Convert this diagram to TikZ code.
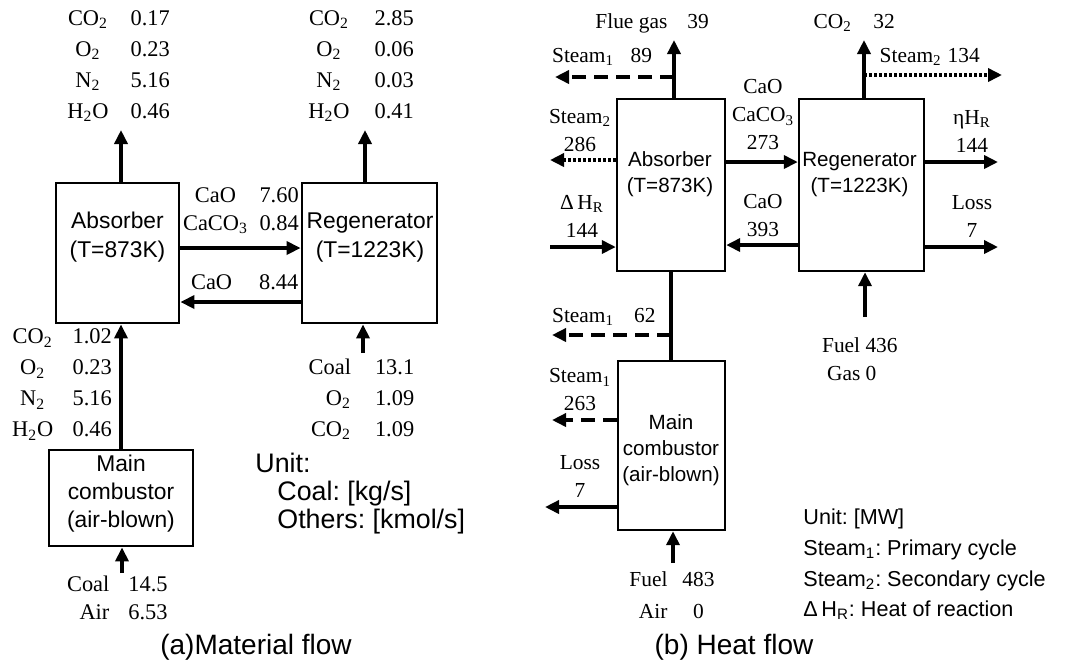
\documentclass[tikz,border=0pt]{standalone}
\usepackage{fontspec}
\setmainfont{Liberation Serif}
\setsansfont{Liberation Sans}
\usetikzlibrary{arrows.meta,positioning}
\frenchspacing

\begin{document}
\begin{tikzpicture}[
    x=0.5pt, y=-0.5pt,
    boxA/.style={draw, line width=1.4pt, inner sep=0pt},
    boxB/.style={draw, line width=1.2pt, inner sep=0pt},
    boxtxtA/.style={align=center, inner sep=0pt, font=\sffamily\fontsize{11.4}{14.5}\selectfont},
    boxtxtB/.style={align=center, inner sep=0pt, font=\sffamily\fontsize{10.3}{13}\selectfont},
    lblA/.style={anchor=west, inner sep=0pt, font=\fontsize{11.2}{15.5}\selectfont},
    lblB/.style={align=center, inner sep=0pt, font=\fontsize{10.7}{14}\selectfont},
    legend/.style={anchor=west, align=left, inner sep=0pt},
    captxt/.style={inner sep=0pt, font=\sffamily\fontsize{14}{16}\selectfont},
    flow/.style={-{Triangle[length=7pt,width=6.5pt]}, line width=2pt},
    dashflow/.style={flow, dash pattern=on 7pt off 4pt},
    dotflow/.style={flow, line width=1.9pt, dash pattern=on 1.5pt off 1pt}
  ]
    \useasboundingbox (0,0) rectangle (1074,661);

    % (a) Material flow: boxes
    \node[boxA, minimum width=61.5pt, minimum height=70pt] (absA) at (117.5,253) {};
    \node[boxA, minimum width=67.5pt, minimum height=70pt] (regA) at (369.5,253) {};
    \node[boxA, minimum width=72pt, minimum height=48pt] (combA) at (121,498) {};
    \node[boxtxtA] (absAtxt) at (117.5,237.5) {Absorber\\(T=873K)};
    \node[boxtxtA] (regAtxt) at (370,237.5) {Regenerator\\(T=1223K)};
    \node[boxtxtA, font=\sffamily\fontsize{11.4}{14}\selectfont] (combAtxt) at (121,493.5) {Main\\combustor\\(air-blown)};

    % (a) streams
    \coordinate (aTop) at (121,130);
    \coordinate (rTop) at (365,130);
    \coordinate (rIn) at (363,353);
    \coordinate (cIn) at (122,573);
    \draw[flow] (absA.north -| aTop) -- (aTop);
    \draw[flow] (regA.north -| rTop) -- (rTop);
    \draw[flow] ([yshift=2.5pt]absA.east) -- ([yshift=2.5pt]regA.west);
    \draw[flow] ([yshift=-24.5pt]regA.west) -- ([yshift=-24.5pt]absA.east);
    \draw[flow] (combA.north) -- (combA.north |- absA.south);
    \draw[flow] (rIn) -- (rIn |- regA.south);
    \draw[flow] (cIn) -- (cIn |- combA.south);

    % (a) labels
    \node[lblA] (absOut) at (67,66) {\begin{tabular}{@{}c@{\hspace{11pt}}l@{}}
      CO\textsubscript{2} & 0.17\\ O\textsubscript{2} & 0.23\\ N\textsubscript{2} & 5.16\\ H\textsubscript{2}O & 0.46\end{tabular}};
    \node[lblA] (regOut) at (308,66) {\begin{tabular}{@{}c@{\hspace{12.5pt}}l@{}}
      CO\textsubscript{2} & 2.85\\ O\textsubscript{2} & 0.06\\ N\textsubscript{2} & 0.03\\ H\textsubscript{2}O & 0.41\end{tabular}};
    \node[lblA, font=\fontsize{11.2}{14}\selectfont] (cycA) at (182.7,211) {\begin{tabular}{@{}c@{\hspace{5.8pt}}l@{}}
      CaO & 7.60\\ CaCO\textsubscript{3} & 0.84\end{tabular}};
    \node[lblA] (retA) at (190.7,282) {CaO\hspace{13.5pt}8.44};
    \node[lblA] (combOut) at (11.7,384) {\begin{tabular}{@{}c@{\hspace{9.7pt}}l@{}}
      CO\textsubscript{2} & 1.02\\ O\textsubscript{2} & 0.23\\ N\textsubscript{2} & 5.16\\ H\textsubscript{2}O & 0.46\end{tabular}};
    \node[lblA] (regIn) at (308.3,399) {\begin{tabular}{@{}r@{\hspace{12pt}}l@{}}
      Coal & 13.1\\ O\textsubscript{2} & 1.09\\ CO\textsubscript{2} & 1.09\end{tabular}};
    \node[lblA, font=\fontsize{11.2}{14}\selectfont] (combIn) at (66.7,600) {\begin{tabular}{@{}r@{\hspace{9.5pt}}l@{}}
      Coal & 14.5\\ Air & 6.53\end{tabular}};
    \node[legend, font=\sffamily\fontsize{13.4}{14}\selectfont] (unitA) at (255,494)
      {Unit:\\\hspace*{11pt}Coal: [kg/s]\\\hspace*{11pt}Others: [kmol/s]};
    \node[captxt] (capA) at (256,647) {(a)Material flow};

    % (b) Heat flow: boxes
    \node[boxB, minimum width=54pt, minimum height=86pt] (absB) at (671,185) {};
    \node[boxB, minimum width=62.5pt, minimum height=86pt] (regB) at (861.5,185) {};
    \node[boxB, minimum width=53.5pt, minimum height=84.5pt] (combB) at (671.5,445.5) {};
    \node[boxtxtB] (absBtxt) at (670,174.5) {Absorber\\(T=873K)};
    \node[boxtxtB] (regBtxt) at (859.5,174.5) {Regenerator\\(T=1223K)};
    \node[boxtxtB] (combBtxt) at (671,450) {Main\\combustor\\(air-blown)};

    % (b) streams
    \coordinate (flueEnd) at (674,40);
    \coordinate (s1a) at (555,77);
    \coordinate (s2a) at (550,160);
    \coordinate (dH) at (550,247);
    \coordinate (co2B) at (864,40);
    \coordinate (s2b) at (1002,75);
    \coordinate (eta) at (998,162);
    \coordinate (lossR) at (998,247);
    \coordinate (fuelR) at (865,317);
    \coordinate (s1b) at (552,335);
    \coordinate (s1c) at (552,420);
    \coordinate (lossL) at (545,507);
    \coordinate (fuelC) at (673,563);
    \draw[flow] (absB.north -| flueEnd) -- (flueEnd);
    \draw[dashflow] (s1a -| flueEnd) -- (s1a);
    \draw[dotflow] (absB.west |- s2a) -- (s2a);
    \draw[flow] (dH) -- (absB.west |- dH);
    \draw[flow] ([yshift=11.5pt]absB.east) -- ([yshift=11.5pt]regB.west);
    \draw[flow] ([yshift=-30pt]regB.west) -- ([yshift=-30pt]absB.east);
    \draw[flow] (regB.north -| co2B) -- (co2B);
    \draw[dotflow] (co2B |- s2b) -- (s2b);
    \draw[flow] (regB.east |- eta) -- (eta);
    \draw[flow] (regB.east |- lossR) -- (lossR);
    \draw[flow] (fuelR) -- (fuelR |- regB.south);
    \draw[line width=2pt] (absB.south) -- (absB.south |- combB.north);
    \draw[dashflow] (absB.south |- s1b) -- (s1b);
    \draw[dashflow] (combB.west |- s1c) -- (s1c);
    \draw[flow] (combB.west |- lossL) -- (lossL);
    \draw[flow] (fuelC) -- (fuelC |- combB.south);

    % (b) labels
    \node[lblB, anchor=west] (flueTxt) at (595,23) {Flue gas\hspace{10pt}39};
    \node[lblB, anchor=west] (s1aTxt) at (551.7,57) {Steam\textsubscript{1}\hspace{8.3pt}89};
    \node[lblB] (s2aTxt) at (580,130.5) {Steam\textsubscript{2}\\286};
    \node[lblB] (dHTxt) at (582,216) {Δ\,H\textsubscript{R}\\144};
    \node[lblB] (cycB) at (763,115) {CaO\\CaCO\textsubscript{3}\\273};
    \node[lblB] (retB) at (763,216) {CaO\\393};
    \node[lblB, anchor=west] (co2Txt) at (813.3,23) {CO\textsubscript{2}\hspace{10.7pt}32};
    \node[lblB, anchor=west] (s2bTxt) at (879.3,57) {Steam\textsubscript{2}\hspace{3pt}134};
    \node[lblB] (etaTxt) at (972,131) {ηH\textsubscript{R}\\144};
    \node[lblB] (lossRTxt) at (972,216) {Loss\\7};
    \node[lblB, anchor=west, align=left] (fuelRTxt) at (821.7,359.5) {Fuel 436\\\hspace*{2.5pt}Gas 0};
    \node[lblB, anchor=west] (s1bTxt) at (551.7,317) {Steam\textsubscript{1}\hspace{10pt}62};
    \node[lblB] (s1cTxt) at (580,390) {Steam\textsubscript{1}\\263};
    \node[lblB] (lossLTxt) at (580,476) {Loss\\7};
    \node[lblB, anchor=west, font=\fontsize{10.7}{16}\selectfont] (fuelCTxt) at (629,596) {\begin{tabular}{@{}r@{\hspace{7.5pt}}c@{}}
      Fuel & 483\\ Air & 0\end{tabular}};
    \node[legend, font=\sffamily\fontsize{10.8}{15.3}\selectfont] (unitB) at (803,564.5)
      {Unit: [MW]\\Steam\textsubscript{1}: Primary cycle\\Steam\textsubscript{2}: Secondary cycle\\Δ\,H\textsubscript{R}: Heat of reaction};
    \node[captxt] (capB) at (734,647) {(b) Heat flow};
  \end{tikzpicture}
\end{document}
